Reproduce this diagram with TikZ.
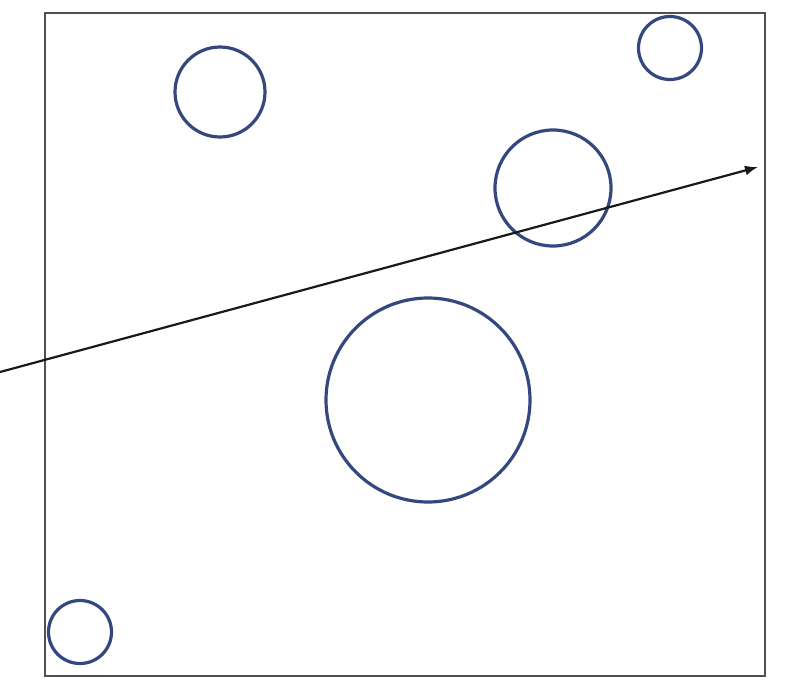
\documentclass[tikz,border=0pt]{standalone}
\usetikzlibrary{arrows.meta}
\definecolor{circblue}{HTML}{34477F}
\definecolor{boxgray}{HTML}{505050}
\begin{document}
\begin{tikzpicture}[x=1pt,y=-1pt,
  ring/.style={circle,draw=circblue,line width=3.2pt,inner sep=0pt},
  frame/.style={draw=boxgray,line width=2.8pt},
  ray/.style={draw=black!90,line width=2.2pt,-{Latex[length=13pt,width=10pt]}}]
\useasboundingbox (0,0) rectangle (787,691);
\node[frame,minimum width=720pt,minimum height=663pt,inner sep=0pt] (box) at (405,344.5) {};
\node[ring,minimum size=90pt] (c1) at (220,92) {};
\node[ring,minimum size=63pt] (c2) at (670,48) {};
\node[ring,minimum size=116pt] (c3) at (553,188) {};
\node[ring,minimum size=204pt] (c4) at (428,400) {};
\node[ring,minimum size=63pt] (c5) at (80,632) {};
\coordinate (rs) at (0,372);
\coordinate (re) at (758,167);
\draw[ray] (rs) -- (re);
\end{tikzpicture}
\end{document}
